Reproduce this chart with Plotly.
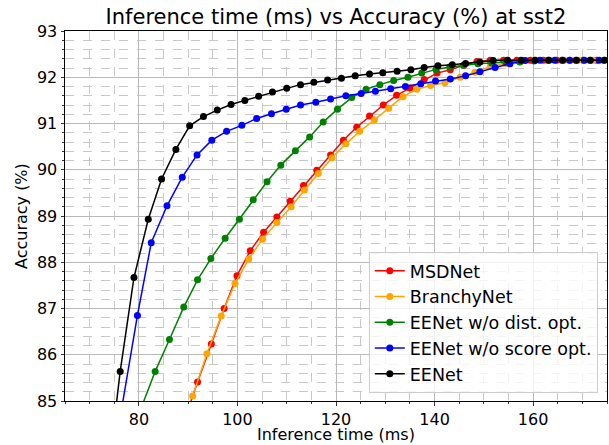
import plotly.graph_objects as go

msdnet_x = [89.3, 91.9, 94.7, 97.3, 99.9, 102.6, 105.3, 108.0, 110.7, 113.4, 116.1, 118.9, 121.5, 124.2, 126.8, 129.6,
            132.3, 135.0, 137.9, 140.5, 143.2, 145.9, 148.6, 151.3, 154.0, 156.7, 159.4, 162.1, 164.8, 167.5, 170.2, 172.9]
msdnet_y = [84.6, 85.41, 86.23, 87.00, 87.71, 88.25, 88.65, 88.98, 89.32, 89.66, 89.99, 90.32, 90.64, 90.92, 91.16, 91.40,
            91.61, 91.77, 91.95, 92.09, 92.16, 92.26, 92.34, 92.37, 92.37, 92.37, 92.37, 92.37, 92.37, 92.37, 92.37, 92.37]

branchy_x = [90.9, 93.8, 96.7, 99.5, 102.3, 105.1, 108.0, 110.9, 113.6, 116.4, 119.2, 122.0, 124.8, 127.8, 130.7,
             133.6, 136.4, 139.2, 142.1, 145.2, 148.2, 151.3, 154.3, 157.4, 160.4, 163.3, 166.3, 169.2, 172.2]
branchy_y = [85.11, 86.02, 86.84, 87.54, 88.07, 88.50, 88.86, 89.20, 89.56, 89.92, 90.26, 90.56, 90.83, 91.08, 91.33,
             91.58, 91.74, 91.82, 91.88, 92.00, 92.11, 92.23, 92.30, 92.34, 92.37, 92.37, 92.37, 92.37, 92.37]

nodist_x = [80.5, 83.3, 86.2, 89.1, 91.9, 94.6, 97.5, 100.4, 103.2, 106.0, 108.8, 111.75, 114.65, 117.4, 120.3, 123.2,
            126.1, 128.9, 131.7, 134.6, 137.4, 140.3, 143.1, 145.9, 148.8, 151.6, 154.5, 157.3, 160.2, 163.0, 165.9,
            168.7, 171.6, 174.4]
nodist_y = [84.86, 85.64, 86.33, 87.03, 87.62, 88.08, 88.52, 88.93, 89.35, 89.74, 90.10, 90.41, 90.71, 91.03, 91.31,
            91.56, 91.74, 91.84, 91.93, 92.00, 92.09, 92.17, 92.22, 92.26, 92.29, 92.31, 92.32, 92.33, 92.35, 92.37,
            92.37, 92.37, 92.37, 92.37]

noscore_x = [76.2, 79.7, 82.5, 85.7, 88.8, 91.8, 94.8, 97.8, 100.9, 103.9, 106.9, 109.9, 112.8, 115.9, 118.9, 122.0,
             125.1, 128.0, 131.1, 134.1, 137.2, 140.2, 143.2, 146.3, 149.2, 152.3, 155.3, 158.4, 161.4, 164.4, 167.4,
             170.4, 173.4]
noscore_y = [84.65, 86.85, 88.42, 89.22, 89.84, 90.32, 90.64, 90.83, 90.96, 91.11, 91.21, 91.31, 91.40, 91.46, 91.53,
             91.60, 91.65, 91.70, 91.75, 91.80, 91.86, 91.92, 91.96, 92.03, 92.12, 92.21, 92.29, 92.36, 92.37, 92.37,
             92.37, 92.37, 92.37]

eenet_x = [73.4, 76.2, 79.0, 81.9, 84.6, 87.5, 90.3, 93.1, 95.9, 98.7, 101.5, 104.3, 107.1, 110.0, 112.8, 115.5, 118.3,
           121.1, 123.9, 126.8, 129.5, 132.4, 135.2, 137.9, 140.7, 143.6, 146.3, 149.2, 151.9, 154.8, 157.6, 160.4,
           163.2, 166.0, 168.8, 171.6, 174.5]
eenet_y = [83.1, 85.64, 87.67, 88.93, 89.80, 90.44, 90.95, 91.15, 91.29, 91.41, 91.50, 91.59, 91.68, 91.76, 91.84,
           91.89, 91.94, 91.98, 92.03, 92.07, 92.10, 92.13, 92.16, 92.21, 92.25, 92.27, 92.30, 92.33, 92.36, 92.37,
           92.37, 92.37, 92.37, 92.37, 92.37, 92.37, 92.37]

series = [
    ("MSDNet", msdnet_x, msdnet_y, "#ff0000"),
    ("BranchyNet", branchy_x, branchy_y, "#ffa500"),
    ("EENet w/o dist. opt.", nodist_x, nodist_y, "#008000"),
    ("EENet w/o score opt.", noscore_x, noscore_y, "#0000ff"),
    ("EENet", eenet_x, eenet_y, "#000000"),
]

FONT = "DejaVu Sans"
fig = go.Figure()
for name, xs, ys, col in series:
    fig.add_trace(go.Scatter(x=xs, y=ys, name=name, mode="lines+markers",
                             line=dict(color=col, width=1.5),
                             marker=dict(color=col, size=7)))

axis_common = dict(
    showline=True, linecolor="#000000", linewidth=1, mirror=True,
    ticks="outside", ticklen=3.5, tickcolor="#333333", tickwidth=1,
    showgrid=True, gridcolor="#b8b8b8", gridwidth=1,
    zeroline=False, automargin=False,
    tickfont=dict(family=FONT, size=16, color="#000000"),
)

fig.update_xaxes(range=[65, 175], dtick=20, tick0=0,
                 minor=dict(dtick=5, tick0=0, showgrid=True, griddash="dash", gridcolor="#c8c8c8", gridwidth=1,
                            ticks="outside", ticklen=2, tickcolor="#333333"),
                 **axis_common)
fig.update_yaxes(range=[85, 93], dtick=1, tick0=0,
                 minor=dict(dtick=0.2, tick0=0, showgrid=True, griddash="dash", gridcolor="#c8c8c8", gridwidth=1,
                            ticks="outside", ticklen=2, tickcolor="#333333"),
                 **axis_common)

fig.add_annotation(text="Inference time (ms)", xref="paper", yref="paper", x=0.5, y=(401 - 434) / 370,
                   xanchor="center", yanchor="middle", showarrow=False,
                   font=dict(family=FONT, size=16, color="#000000"))
fig.add_annotation(text="Accuracy (%)", xref="paper", yref="paper", x=(21 - 65) / 542, y=0.5,
                   xanchor="center", yanchor="middle", showarrow=False, textangle=-90,
                   font=dict(family=FONT, size=16, color="#000000"))

fig.update_layout(
    width=609, height=445,
    margin=dict(l=65, r=2, t=31, b=44, autoexpand=False),
    paper_bgcolor="#ffffff", plot_bgcolor="#ffffff",
    title=dict(text="Inference time (ms) vs Accuracy (%) at sst2", x=0.5, xref="paper", xanchor="center",
               y=0.962, yref="container", yanchor="middle",
               font=dict(family=FONT, size=21, color="#000000")),
    legend=dict(x=0.983, y=0.022, xanchor="right", yanchor="bottom",
                bgcolor="rgba(255,255,255,0.8)", bordercolor="#cccccc", borderwidth=1,
                font=dict(family=FONT, size=17.5, color="#000000")),
    showlegend=True,
)

fig.write_html("out.html", config={"displayModeBar": False},
               post_script="document.body.style.margin='0';document.body.style.padding='0';"
                           "document.documentElement.style.margin='0';")
